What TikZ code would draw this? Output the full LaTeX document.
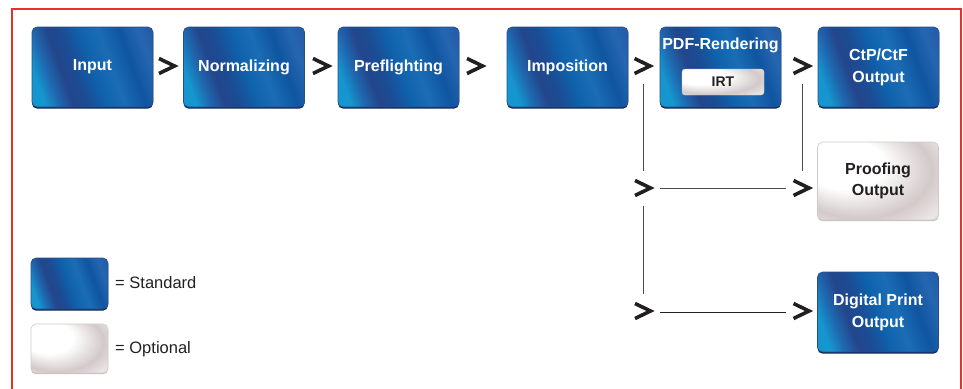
\documentclass[tikz,border=0pt]{standalone}
\usepackage{fontspec}
\setmainfont{Liberation Sans}
\usetikzlibrary{calc,shadows}
\definecolor{bA}{HTML}{1596CE}
\definecolor{bB}{HTML}{1F66AE}
\definecolor{bC}{HTML}{23468C}
\definecolor{bD}{HTML}{1B4C94}
\definecolor{bE}{HTML}{0F62AC}
\definecolor{bF}{HTML}{1A6DB5}
\definecolor{bG}{HTML}{1055A0}
\definecolor{bH}{HTML}{2566B0}
\definecolor{bI}{HTML}{2456A2}
\definecolor{gA}{HTML}{FFFFFF}
\definecolor{gC}{HTML}{D3C9C9}
\definecolor{gD}{HTML}{ECE7E7}
\definecolor{gF}{HTML}{B5A8A8}
\definecolor{frame}{HTML}{E5302B}
\definecolor{ink}{HTML}{231F20}
\definecolor{blueedge}{HTML}{2C4C88}
\definecolor{blueshadow}{HTML}{0A2456}
\definecolor{greyedge}{HTML}{D2CACA}
\definecolor{greyshadow}{HTML}{9A9090}
\definecolor{conn}{HTML}{4A4A4A}
\pgfdeclarehorizontalshading{bluebox}{100bp}{color(0bp)=(bA); color(24bp)=(bA); color(30bp)=(bB); color(36bp)=(bC); color(42bp)=(bD); color(50bp)=(bE); color(58bp)=(bF); color(67bp)=(bG); color(75bp)=(bH); color(84bp)=(bI); color(100bp)=(bI)}
\pgfdeclareradialshading{greybox}{\pgfpoint{-20bp}{16bp}}{color(0bp)=(gA); color(16bp)=(gA); color(30bp)=(gC); color(38bp)=(gD); color(46bp)=(gF); color(50bp)=(gF)}
\begin{document}
\begin{tikzpicture}[x=1pt,y=1pt,
  stdbox/.style={rectangle, rounded corners=5pt, minimum width=121pt, minimum height=80pt,
    shading=bluebox, shading angle=20, draw=blueedge, line width=0.6pt,
    drop shadow={shadow xshift=0pt, shadow yshift=-1.6pt, fill=blueshadow, opacity=1},
    text=white, font=\bfseries\fontsize{16}{22}\selectfont, align=center, inner sep=0pt},
  optbox/.style={rectangle, rounded corners=5pt, minimum width=121pt, minimum height=78pt,
    shading=greybox, draw=greyedge, line width=0.6pt,
    drop shadow={shadow xshift=0pt, shadow yshift=-1.2pt, fill=greyshadow, opacity=0.6},
    text=ink, font=\bfseries\fontsize{16}{21}\selectfont, align=center, inner sep=0pt},
  chevstyle/.style={draw=ink, line width=3.6pt, miter limit=10, line join=miter},
  connector/.style={draw=conn, line width=1pt},
  legendtext/.style={text=ink, font=\fontsize{16.5}{19}\selectfont, anchor=west, inner sep=0pt}
]
\useasboundingbox (0,0) rectangle (963,-388);
% frame
\draw[frame, line width=2.6pt] (12,-400) -- (12,-9) -- (961,-9) -- (961,-400);

% chevron positions
\coordinate (k1) at (168,-66);
\coordinate (k2) at (322,-66);
\coordinate (k3) at (476,-66);
\coordinate (k4) at (643.5,-66);
\coordinate (k5) at (802.5,-66);
\coordinate (k6) at (644,-188);
\coordinate (k7) at (802.5,-188);
\coordinate (k8) at (644,-311);
\coordinate (k9) at (802.5,-311);
\foreach \k in {k1,k2,k3,k4,k5,k6,k7,k8,k9}{
  \draw[chevstyle] ($(\k)+(-9,7.5)$) -- ($(\k)+(6.5,0)$) -- ($(\k)+(-9,-7.5)$);
}

% connectors
\coordinate (va) at (643,-84);
\coordinate (vb) at (643,-171);
\coordinate (vc) at (643,-206);
\coordinate (vd) at (643,-294);
\coordinate (wa) at (802,-84);
\coordinate (wb) at (802,-171);
\coordinate (ha) at (660,-188);
\coordinate (hb) at (786,-188);
\coordinate (hc) at (660,-312);
\coordinate (hd) at (786,-312);
\draw[connector] (va) -- (vb);
\draw[connector] (vc) -- (vd);
\draw[connector] (wa) -- (wb);
\draw[connector] (ha) -- (hb);
\draw[connector, draw=ink] (hc) -- (hd);

% boxes
\node[stdbox] (input) at (92.5,-67) {Input};
\node[stdbox] (norm) at (244,-67) {Normalizing};
\node[stdbox] (pref) at (398.5,-67) {Preflighting};
\node[stdbox] (impo) at (567.5,-67) {Imposition};
\node[stdbox] (pdf) at (720.5,-67) {};
\node[text=white, font=\bfseries\fontsize{16}{20}\selectfont, inner sep=0pt] (pdftitle) at (720.5,-45) {PDF-Rendering};
\node[rectangle, rounded corners=3pt, minimum width=82pt, minimum height=26pt, inner sep=0pt,
  shading=greybox, draw=greyedge, line width=0.4pt,
  text=ink, font=\bfseries\fontsize{14}{16}\selectfont] (irt) at (723,-82) {IRT};
\node[stdbox] (ctp) at (878.5,-67) {CtP/CtF\\Output};
\node[optbox] (proof) at (878,-181) {Proofing\\Output};
\node[stdbox] (digi) at (878,-312) {Digital Print\\Output};

% legend
\node[stdbox, minimum width=77pt, minimum height=51pt] (legstd) at (69.5,-283.5) {};
\node[optbox, minimum width=77pt, minimum height=49pt] (legopt) at (69.5,-348.5) {};
\node[legendtext] (stdtext) at (115,-283) {= Standard};
\node[legendtext] (opttext) at (115,-349) {= Optional};
\end{tikzpicture}
\end{document}
